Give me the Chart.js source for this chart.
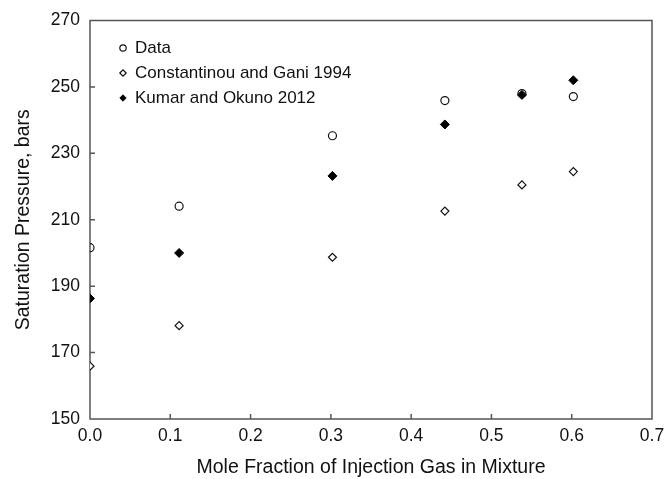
<!DOCTYPE html>
<html>
<head>
<meta charset="utf-8">
<script src="https://cdn.jsdelivr.net/npm/chart.js@4"></script>
<style>
  body { margin: 0; background: #fff; }
</style>
</head>
<body>
<canvas id="mycanvas" width="667" height="479"></canvas>
<script>
// mole fraction of injection gas (x) and saturation pressure (bars)
var dataX = [0.0, 0.111, 0.302, 0.442, 0.538, 0.602];
var dataP = [201.6, 214.1, 235.3, 245.9, 248.0, 247.1];

var constX = [0.0, 0.111, 0.302, 0.442, 0.538, 0.602];
var constP = [165.9, 178.1, 198.7, 212.6, 220.5, 224.5];

var kumarX = [0.0, 0.111, 0.302, 0.442, 0.538, 0.602];
var kumarP = [186.3, 200.0, 223.2, 238.7, 247.6, 252.0];

var xTicks = [0, 0.1, 0.2, 0.3, 0.4, 0.5, 0.6, 0.7];
var yTicks = [150, 170, 190, 210, 230, 250, 270];

function pts(xs, ys) {
  var out = [];
  for (var i in xs) {
    out.push({x: xs[i], y: ys[i]});
  }
  return out;
}

var font = 'Arial, "Liberation Sans", sans-serif';

// box round the plot and small inward tick marks
var framePlugin = {
  id: 'frame',
  afterLayout: function(chart) {
    // move the legend into the upper left of the plot
    chart.legend.left += 21.5;
    chart.legend.top += 31.5;
  },
  beforeDatasetsDraw: function(chart) {
    var ctx = chart.ctx;
    var a = chart.chartArea;
    var xs = chart.scales.x, ys = chart.scales.y;
    ctx.save();
    ctx.strokeStyle = '#555';
    ctx.lineWidth = 1.5;
    ctx.strokeRect(a.left, a.top, a.right - a.left, a.bottom - a.top);
    ctx.beginPath();
    for (var i = 1; i < xTicks.length - 1; i++) {
      var px = xs.getPixelForValue(xTicks[i]);
      ctx.moveTo(px, a.bottom);
      ctx.lineTo(px, a.bottom - 5);
    }
    for (var j = 1; j < yTicks.length - 1; j++) {
      var py = ys.getPixelForValue(yTicks[j]);
      ctx.moveTo(a.left, py);
      ctx.lineTo(a.left + 5, py);
    }
    ctx.stroke();
    ctx.restore();
  }
};

var chartdata = {
  datasets: [
    {
      label: 'Data',
      data: pts(dataX, dataP),
      pointStyle: 'circle',
      pointRadius: 4,
      borderWidth: 1.2,
      borderColor: '#111',
      backgroundColor: 'rgba(0,0,0,0)'
    },
    {
      label: 'Constantinou and Gani 1994',
      data: pts(constX, constP),
      pointStyle: 'rectRot',
      pointRadius: 4,
      borderWidth: 1.2,
      borderColor: '#111',
      backgroundColor: '#fff'
    },
    {
      label: 'Kumar and Okuno 2012',
      data: pts(kumarX, kumarP),
      pointStyle: 'rectRot',
      pointRadius: 4.5,
      borderWidth: 1,
      borderColor: '#000',
      backgroundColor: '#000'
    }
  ]
};

var ctx = document.getElementById('mycanvas');

var chart = new Chart(ctx, {
  type: 'scatter',
  data: chartdata,
  options: {
    responsive: false,
    animation: false,
    devicePixelRatio: 1,
    layout: { padding: { top: 20, right: 15, left: 0, bottom: 0 } },
    plugins: {
      tooltip: { enabled: false },
      legend: {
        position: 'chartArea',
        align: 'start',
        labels: {
          usePointStyle: true,
          boxWidth: 7,
          boxHeight: 4.5,
          padding: 8,
          color: '#111',
          font: { family: font, size: 17 }
        }
      }
    },
    scales: {
      x: {
        type: 'linear',
        min: 0,
        max: 0.7,
        afterFit: function(s) {
          s.height = 60;
          s.paddingLeft = 0;
          s.paddingRight = 0;
        },
        afterBuildTicks: function(s) {
          s.ticks = xTicks.map(function(v) { return {value: v}; });
        },
        grid: { display: false, drawTicks: false },
        border: { display: false },
        ticks: {
          padding: 7,
          color: '#111',
          font: { family: font, size: 17.5 },
          callback: function(v) { return Number(v).toFixed(1); }
        },
        title: {
          display: true,
          text: 'Mole Fraction of Injection Gas in Mixture',
          color: '#111',
          font: { family: font, size: 19.5 },
          padding: { top: 0, bottom: 0 }
        }
      },
      y: {
        type: 'linear',
        min: 150,
        max: 270,
        afterFit: function(s) { s.width = 90; },
        afterBuildTicks: function(s) {
          s.ticks = yTicks.map(function(v) { return {value: v}; });
        },
        grid: { display: false, drawTicks: false },
        border: { display: false },
        ticks: {
          padding: 10,
          color: '#111',
          font: { family: font, size: 17.5 }
        },
        title: {
          display: true,
          text: 'Saturation Pressure, bars',
          color: '#111',
          font: { family: font, size: 19.5 },
          padding: { top: 12, bottom: 0 }
        }
      }
    }
  },
  plugins: [framePlugin]
});
</script>
</body>
</html>
